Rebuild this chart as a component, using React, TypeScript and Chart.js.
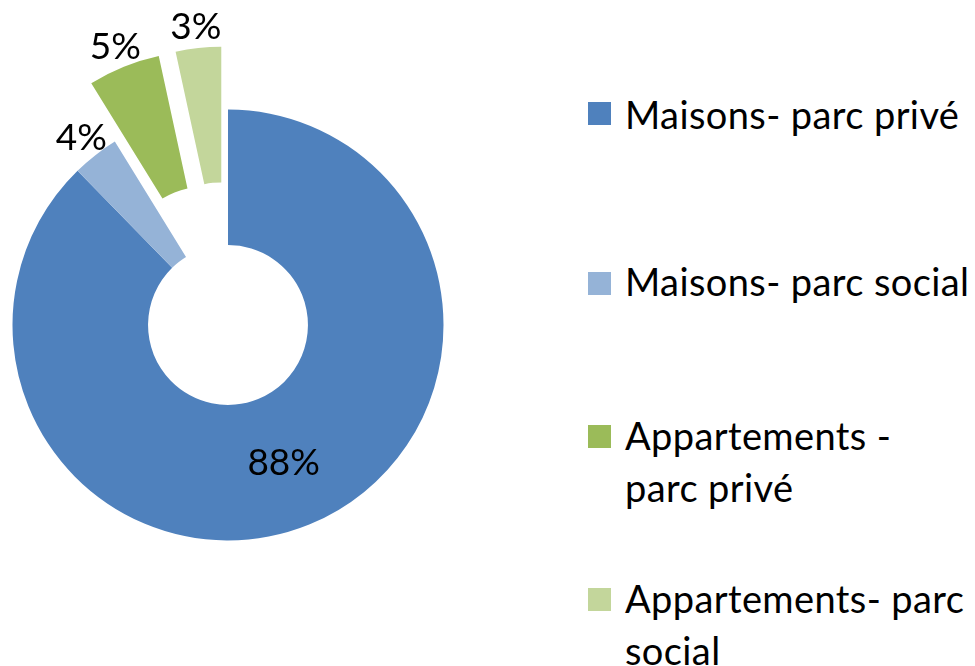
import React, { useEffect, useRef } from "react";
import { Chart, ArcElement, DoughnutController } from "chart.js";

Chart.register(ArcElement, DoughnutController);

// ---- data ----
const categories = [
  "Maisons- parc privé",
  "Maisons- parc social",
  "Appartements - parc privé",
  "Appartements- parc social",
];
const shares = [87.7, 3.5, 5.4, 3.4];
const legendLines = [
  ["Maisons- parc privé"],
  ["Maisons- parc social"],
  ["Appartements -", "parc privé"],
  ["Appartements- parc", "social"],
];

// ---- styles ----
const colors = ["#4F81BD", "#95B3D7", "#9BBB59", "#C3D69B"];
const explodePx = [0, 0, 63, 63];
const FONT = "Lato, 'Open Sans', sans-serif";
const FONT_SIZE = 37;
const LEGEND_FONT_SIZE = 38;
const legendBaselines = [128, 295, 449, 612];
const legendMarkerTops = [102, 272, 425, 588];
const LINE_H = 52;
const BASELINE_IN_LINE = 40;

const explodePlugin = {
  id: "explodeSlices",
  beforeDatasetsDraw(chart: any) {
    const meta = chart.getDatasetMeta(0);
    meta.data.forEach((arc: any, i: number) => {
      const d = explodePx[i];
      if (!d || arc.__exploded) return;
      arc.draw = function (ctx: CanvasRenderingContext2D, area: any) {
        const mid = (this.startAngle + this.endAngle) / 2;
        ctx.save();
        ctx.translate(Math.cos(mid) * d, Math.sin(mid) * d);
        ArcElement.prototype.draw.call(this, ctx, area);
        ctx.restore();
      };
      arc.__exploded = true;
    });
  },
};

const labelPlugin = {
  id: "sliceLabels",
  afterDatasetsDraw(chart: any) {
    const meta = chart.getDatasetMeta(0);
    const data = chart.data.datasets[0].data as number[];
    const total = data.reduce((a, b) => a + b, 0);
    const ctx: CanvasRenderingContext2D = chart.ctx;
    ctx.save();
    ctx.font = `${FONT_SIZE}px ${FONT}`;
    ctx.fillStyle = "#000000";
    ctx.textAlign = "center";
    ctx.textBaseline = "alphabetic";
    meta.data.forEach((arc: any, i: number) => {
      const p = arc.getProps(["x", "y", "startAngle", "endAngle", "innerRadius", "outerRadius"], true);
      const mid = (p.startAngle + p.endAngle) / 2;
      const r = i === 0 ? (p.innerRadius + p.outerRadius) / 2 : p.outerRadius + 23 + explodePx[i];
      const pct = Math.round((data[i] / total) * 100 + 1e-9);
      const lx = p.x + Math.cos(mid) * r;
      const ly = p.y + Math.sin(mid) * r;
      ctx.fillText(pct + "%", lx, ly + FONT_SIZE * 0.36);
    });
    ctx.restore();
  },
};

export default function App() {
  const ref = useRef<HTMLCanvasElement | null>(null);
  useEffect(() => {
    if (!ref.current) return;
    const chart = new Chart(ref.current, {
      type: "doughnut",
      data: {
        labels: categories,
        datasets: [
          {
            data: shares,
            backgroundColor: colors,
            borderWidth: 0,
          },
        ],
      },
      options: {
        responsive: false,
        animation: false,
        events: [],
        radius: 215.5,
        cutout: "37.1%",
        layout: { padding: 0 },
      } as any,
      plugins: [explodePlugin, labelPlugin],
    });
    return () => chart.destroy();
  }, []);

  return (
    <div style={{ position: "absolute", left: 0, top: 0, width: 975, height: 666, background: "#fff", overflow: "hidden" }}>
      <canvas ref={ref} width={456} height={650} style={{ position: "absolute", left: 0, top: 0 }} />
      {legendLines.map((lines, i) => (
        <React.Fragment key={i}>
          <div
            style={{
              position: "absolute",
              left: 588,
              top: legendMarkerTops[i],
              width: 23,
              height: 23,
              background: colors[i],
            }}
          />
          <div
            style={{
              position: "absolute",
              left: 625,
              top: legendBaselines[i] - BASELINE_IN_LINE,
              fontFamily: FONT,
              fontSize: LEGEND_FONT_SIZE,
              letterSpacing: "0.4px",
              lineHeight: LINE_H + "px",
              color: "#000",
              whiteSpace: "nowrap",
            }}
          >
            {lines.map((l, j) => (
              <div key={j}>{l}</div>
            ))}
          </div>
        </React.Fragment>
      ))}
    </div>
  );
}
